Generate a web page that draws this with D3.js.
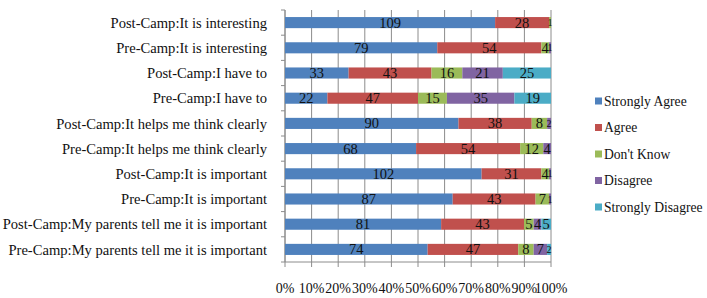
<!DOCTYPE html>
<html>
<head>
<meta charset="utf-8">
<script src="https://cdn.jsdelivr.net/npm/d3@7"></script>
</head>
<body style="margin:0;background:#fff">
<div id="chart"></div>
<script>
// categories, top to bottom
var categories = [
  "Post-Camp:It is interesting",
  "Pre-Camp:It is interesting",
  "Post-Camp:I have to",
  "Pre-Camp:I have to",
  "Post-Camp:It helps me think clearly",
  "Pre-Camp:It helps me think clearly",
  "Post-Camp:It is important",
  "Pre-Camp:It is important",
  "Post-Camp:My parents tell me it is important",
  "Pre-Camp:My parents tell me it is important"
];
var seriesNames = ["Strongly Agree", "Agree", "Don't Know", "Disagree", "Strongly Disagree"];
var stronglyAgree =    [109, 79, 33, 22, 90, 68, 102, 87, 81, 74];
var agree =            [28, 54, 43, 47, 38, 54, 31, 43, 43, 47];
var dontKnow =         [1, 4, 16, 15, 8, 12, 4, 7, 5, 8];
var disagree =         [0, 1, 21, 35, 2, 4, 1, 1, 4, 7];
var stronglyDisagree = [0, 0, 25, 19, 0, 0, 0, 0, 5, 2];
var tickLabels = ["0%", "10%", "20%", "30%", "40%", "50%", "60%", "70%", "80%", "90%", "100%"];
var colors = ["#4f81bd", "#c0504d", "#9bbb59", "#8064a2", "#4bacc6"];

var width = 707, height = 298;
var margin = { left: 285, right: 156, top: 10, bottom: 36 };
var innerW = width - margin.left - margin.right;
var innerH = height - margin.top - margin.bottom;
var FONT = "'Liberation Serif'";

var svg = d3.select("#chart").append("svg")
  .attr("width", width).attr("height", height);

var table = categories.map(function (c, i) {
  var row = { cat: c };
  row[seriesNames[0]] = stronglyAgree[i];
  row[seriesNames[1]] = agree[i];
  row[seriesNames[2]] = dontKnow[i];
  row[seriesNames[3]] = disagree[i];
  row[seriesNames[4]] = stronglyDisagree[i];
  return row;
});

var stacked = d3.stack().keys(seriesNames).offset(d3.stackOffsetExpand)(table);

var x = d3.scaleLinear().domain([0, 1]).range([margin.left, margin.left + innerW]);
var y = d3.scaleBand().domain(categories).range([margin.top, margin.top + innerH]).paddingInner(0.56).paddingOuter(0.28);
var yEdges = d3.scaleBand().domain(categories).range([margin.top, margin.top + innerH]);

// grid lines
svg.append("g").selectAll("line")
  .data(d3.range(0, 1.0001, 0.1))
  .enter().append("line")
  .attr("x1", function (d) { return x(d); })
  .attr("x2", function (d) { return x(d); })
  .attr("y1", margin.top)
  .attr("y2", margin.top + innerH + 5)
  .attr("stroke", "#8c8c8c")
  .attr("stroke-width", 1);

// left axis with ticks between categories
svg.append("line")
  .attr("x1", x(0)).attr("x2", x(0))
  .attr("y1", margin.top).attr("y2", margin.top + innerH)
  .attr("stroke", "#8c8c8c");
svg.append("g").selectAll("line")
  .data(d3.range(categories.length + 1))
  .enter().append("line")
  .attr("x1", x(0) - 4).attr("x2", x(0))
  .attr("y1", function (d) { return margin.top + d * yEdges.step(); })
  .attr("y2", function (d) { return margin.top + d * yEdges.step(); })
  .attr("stroke", "#8c8c8c");
svg.append("line")
  .attr("x1", x(0)).attr("x2", x(1))
  .attr("y1", margin.top + innerH).attr("y2", margin.top + innerH)
  .attr("stroke", "#8c8c8c");

// bars
var layer = svg.append("g").selectAll("g")
  .data(stacked)
  .enter().append("g")
  .attr("fill", function (d, i) { return colors[i]; });

layer.selectAll("rect")
  .data(function (d) { return d; })
  .enter().append("rect")
  .attr("x", function (d) { return x(d[0]); })
  .attr("width", function (d) { return x(d[1]) - x(d[0]); })
  .attr("y", function (d) { return y(d.data.cat); })
  .attr("height", y.bandwidth());

// value labels (narrow segments get a smaller font so neighbours don't collide)
stacked.forEach(function (s) {
  svg.append("g").selectAll("text")
    .data(s.filter(function (d) { return d.data[s.key] > 0; }))
    .enter().append("text")
    .attr("x", function (d) { return (x(d[0]) + x(d[1])) / 2; })
    .attr("y", function (d) { return y(d.data.cat) + y.bandwidth() / 2; })
    .attr("dy", "0.35em")
    .attr("text-anchor", "middle")
    .style("font-family", FONT)
    .style("font-size", function (d) { return (x(d[1]) - x(d[0]) < 4 ? 10 : 14.5) + "px"; })
    .attr("fill", "#111")
    .text(function (d) { return d.data[s.key]; });
});

// category labels
svg.append("g").selectAll("text")
  .data(categories)
  .enter().append("text")
  .attr("x", 267)
  .attr("y", function (d) { return y(d) + y.bandwidth() / 2; })
  .attr("dy", "0.35em")
  .attr("text-anchor", "end")
  .style("font-family", FONT)
  .style("font-size", "14.6px")
  .attr("fill", "#111")
  .text(function (d) { return d; });

// x tick labels
svg.append("g").selectAll("text")
  .data(tickLabels)
  .enter().append("text")
  .attr("x", function (d, i) { return x(i / 10); })
  .attr("y", 293)
  .attr("text-anchor", "middle")
  .style("font-family", FONT)
  .style("font-size", "14px")
  .attr("fill", "#111")
  .text(function (d) { return d; });

// legend
var legend = svg.append("g").selectAll("g")
  .data(seriesNames)
  .enter().append("g")
  .attr("transform", function (d, i) { return "translate(595," + (101 + i * 26.5) + ")"; });
legend.append("rect")
  .attr("x", 0).attr("y", -3.5).attr("width", 7).attr("height", 7)
  .attr("fill", function (d, i) { return colors[i]; });
legend.append("text")
  .attr("x", 9).attr("dy", "0.35em")
  .style("font-family", FONT)
  .style("font-size", "13.6px")
  .attr("fill", "#111")
  .text(function (d) { return d; });
</script>
</body>
</html>
